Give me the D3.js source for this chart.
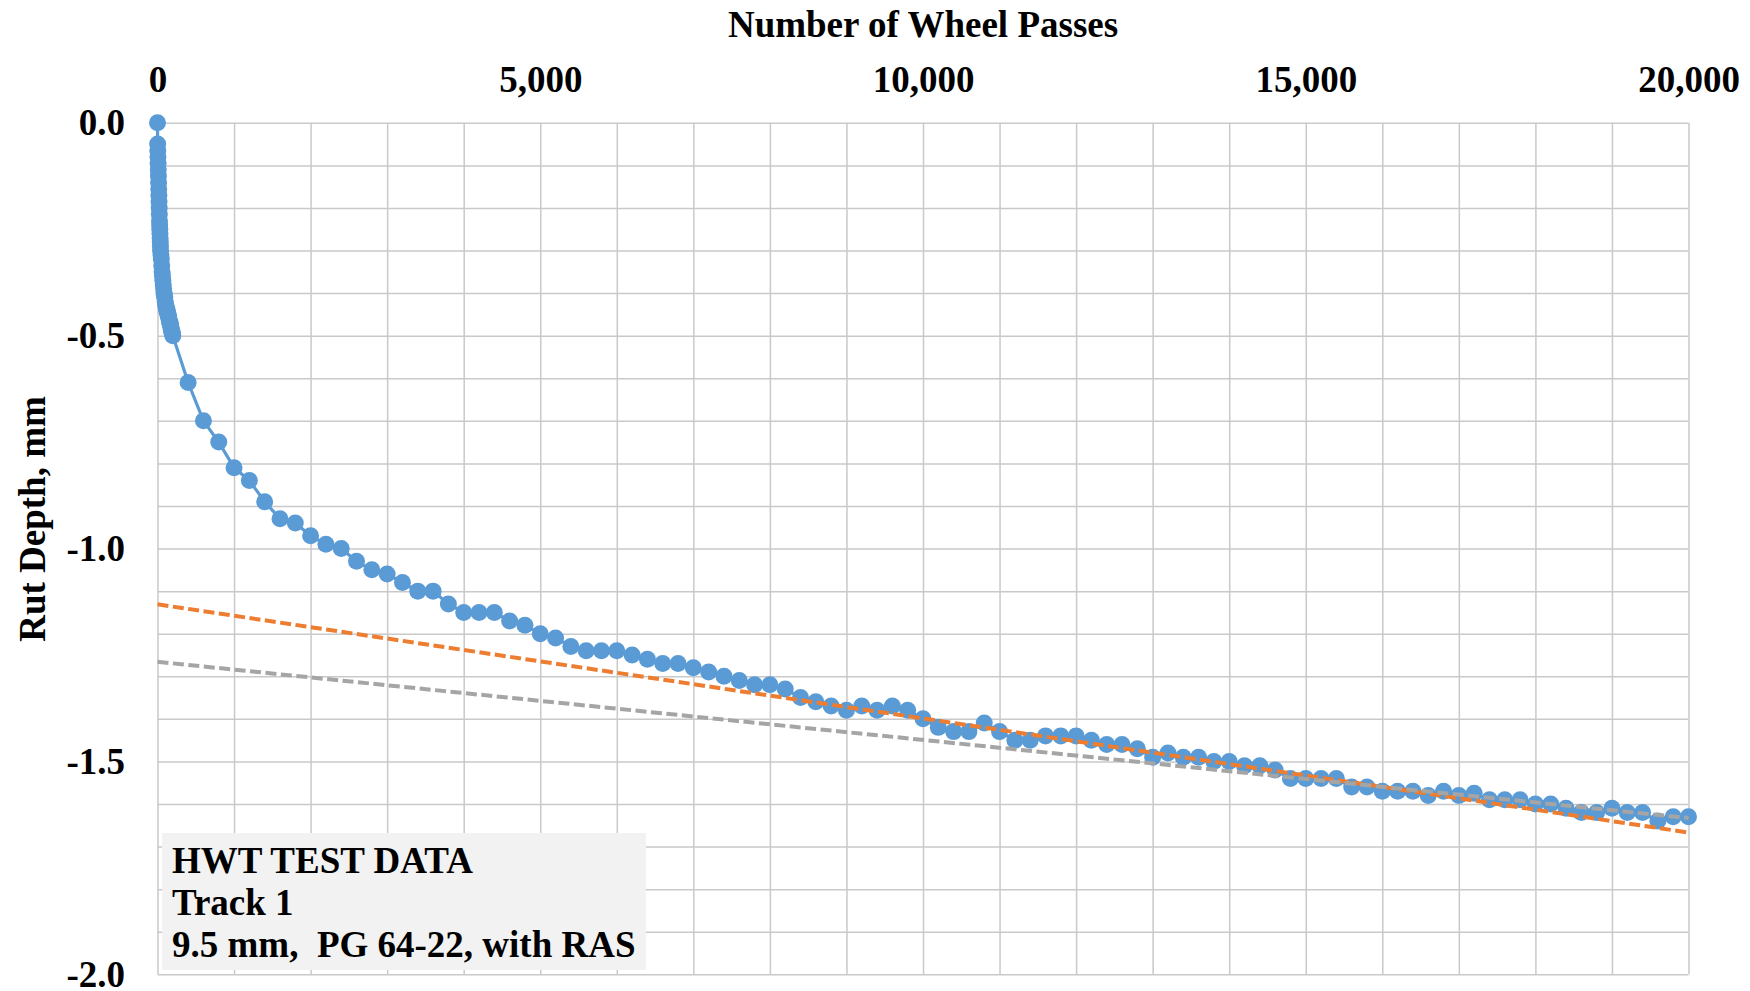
<!DOCTYPE html>
<html>
<head>
<meta charset="utf-8">
<script src="https://cdn.jsdelivr.net/npm/d3@7"></script>
<style>
  body { margin: 0; background: #fff; }
  text { font-family: "Liberation Serif", "Times New Roman", serif; font-weight: bold; white-space: pre; }
</style>
</head>
<body>
<svg id="chart"></svg>
<script>
// HWT data: wheel passes vs rut depth (mm)
const passes = [0, 2, 4, 6, 8, 10, 12, 14, 16, 18, 20, 22, 24, 26, 28, 30, 32, 34, 36, 38, 40,
  45, 50, 55, 60, 65, 70, 75, 80, 85, 90, 95,
  100, 105, 110, 115, 120, 125, 130, 135, 140, 145, 150, 155, 160, 165, 170, 175, 180, 185, 190, 195, 200,
  400, 600, 800, 1000, 1200, 1400, 1600, 1800, 2000, 2200, 2400, 2600, 2800, 3000, 3200, 3400, 3600, 3800,
  4000, 4200, 4400, 4600, 4800, 5000, 5200, 5400, 5600, 5800, 6000, 6200, 6400, 6600, 6800, 7000, 7200,
  7400, 7600, 7800, 8000, 8200, 8400, 8600, 8800, 9000, 9200, 9400, 9600, 9800, 10000, 10200, 10400,
  10600, 10800, 11000, 11200, 11400, 11600, 11800, 12000, 12200, 12400, 12600, 12800, 13000, 13200,
  13400, 13600, 13800, 14000, 14200, 14400, 14600, 14800, 15000, 15200, 15400, 15600, 15800, 16000,
  16200, 16400, 16600, 16800, 17000, 17200, 17400, 17600, 17800, 18000, 18200, 18400, 18600, 18800,
  19000, 19200, 19400, 19600, 19800, 20000];
const rutDepth = [0, -0.05, -0.065, -0.08, -0.095, -0.11, -0.125, -0.14, -0.155, -0.17, -0.185, -0.20,
  -0.215, -0.23, -0.24, -0.25, -0.26, -0.27, -0.28, -0.29, -0.30,
  -0.31, -0.32, -0.335, -0.35, -0.36, -0.37, -0.38, -0.39, -0.40, -0.405, -0.41,
  -0.42, -0.425, -0.43, -0.435, -0.44, -0.44, -0.445,
  -0.45, -0.45, -0.455, -0.46, -0.465, -0.47, -0.47, -0.475, -0.48, -0.485, -0.49, -0.49, -0.495, -0.50,
  -0.61, -0.70, -0.75, -0.81, -0.84, -0.89, -0.93, -0.94, -0.97, -0.99, -1.00, -1.03, -1.05, -1.06, -1.08,
  -1.10, -1.10, -1.13, -1.15, -1.15, -1.15, -1.17, -1.18, -1.20, -1.21, -1.23, -1.24, -1.24, -1.24, -1.25,
  -1.26, -1.27, -1.27, -1.28, -1.29, -1.30, -1.31, -1.32, -1.32, -1.33, -1.35, -1.36, -1.37, -1.38, -1.37,
  -1.38, -1.37, -1.38, -1.40, -1.42, -1.43, -1.43, -1.41, -1.43, -1.45, -1.45, -1.44, -1.44, -1.44, -1.45,
  -1.46, -1.46, -1.47, -1.49, -1.48, -1.49, -1.49, -1.50, -1.50, -1.51, -1.51, -1.52, -1.54, -1.54, -1.54,
  -1.54, -1.56, -1.56, -1.57, -1.57, -1.57, -1.58, -1.57, -1.58, -1.575, -1.59, -1.59, -1.59, -1.60, -1.60,
  -1.61, -1.62, -1.62, -1.61, -1.62, -1.62, -1.64, -1.63, -1.63];

// linear trend lines (end points)
const trendPasses = [0, 20000];
const orangeTrend = [-1.131, -1.667];
const grayTrend = [-1.266, -1.633];

const xTicks = [0, 5000, 10000, 15000, 20000];
const yTicks = [0, -0.5, -1.0, -1.5, -2.0];
const legendLines = ['HWT TEST DATA', 'Track 1', '9.5 mm,  PG 64-22, with RAS'];

const w = 1750, h = 991;
const margins = { top: 122.8, right: 61.5, bottom: 16.7, left: 157.5 };
const fontSize = 37;

const chart = d3.select('#chart')
  .attr('width', w)
  .attr('height', h);

const xScale = d3.scaleLinear()
  .domain([0, 20000])
  .range([margins.left, w - margins.right]);

const yScale = d3.scaleLinear()
  .domain([-2, 0])
  .range([h - margins.bottom, margins.top]);

// GRIDLINES
chart.append('g')
  .attr('class', 'grid')
  .attr('transform', `translate(0, ${h - margins.bottom})`)
  .call(d3.axisBottom(xScale)
    .tickValues(d3.range(0, 20001, 1000))
    .tickSize(-(h - margins.top - margins.bottom))
    .tickFormat(''))
  .call(g => g.select('.domain').remove());

chart.append('g')
  .attr('class', 'grid')
  .attr('transform', `translate(${margins.left}, 0)`)
  .call(d3.axisLeft(yScale)
    .tickValues(d3.range(0, 21).map(i => -i / 10))
    .tickSize(-(w - margins.left - margins.right))
    .tickFormat(''))
  .call(g => g.select('.domain').remove());

chart.selectAll('.grid line')
  .attr('stroke', '#c9c9c9')
  .attr('stroke-width', 1.5);

// X AXIS (top)
chart.append('g')
  .attr('transform', `translate(0, ${margins.top})`)
  .call(d3.axisTop(xScale)
    .tickValues(xTicks)
    .tickSize(0)
    .tickPadding(31)
    .tickFormat(d3.format(',')))
  .call(g => g.select('.domain').remove())
  .attr('font-family', null)
  .attr('font-size', fontSize)
  .selectAll('text').attr('fill', '#000');

// Y AXIS
chart.append('g')
  .attr('transform', `translate(${margins.left}, 0)`)
  .call(d3.axisLeft(yScale)
    .tickValues(yTicks)
    .tickSize(0)
    .tickPadding(32.5)
    .tickFormat(d => d.toFixed(1)))
  .call(g => g.select('.domain').remove())
  .attr('font-family', null)
  .attr('font-size', fontSize)
  .selectAll('text').attr('fill', '#000');

// AXIS TITLES
chart.append('text')
  .attr('transform', `translate(${(margins.left + w - margins.right) / 2}, 37)`)
  .attr('text-anchor', 'middle')
  .attr('font-size', fontSize)
  .text('Number of Wheel Passes');

chart.append('text')
  .attr('transform', `translate(45, 519) rotate(-90)`)
  .attr('text-anchor', 'middle')
  .attr('font-size', fontSize)
  .text('Rut Depth, mm');

// DATA SERIES
const data = passes.map((p, i) => ({ x: p, y: rutDepth[i] }));
const line = d3.line().x(d => xScale(d.x)).y(d => yScale(d.y));

chart.append('path')
  .datum(data)
  .attr('fill', 'none')
  .attr('stroke', '#5b9bd5')
  .attr('stroke-width', 3.2)
  .attr('d', line);

chart.selectAll('circle.pt')
  .data(data)
  .join('circle')
  .attr('class', 'pt')
  .attr('cx', d => xScale(d.x))
  .attr('cy', d => yScale(d.y))
  .attr('r', 8.5)
  .attr('fill', '#5b9bd5');

// TREND LINES
[[orangeTrend, '#ed7d31'], [grayTrend, '#a5a5a5']].forEach(([vals, color]) => {
  chart.append('path')
    .datum(trendPasses.map((p, i) => ({ x: p, y: vals[i] })))
    .attr('fill', 'none')
    .attr('stroke', color)
    .attr('stroke-width', 4)
    .attr('stroke-dasharray', '11,4.5')
    .attr('d', line);
});

// LEGEND BOX
chart.append('rect')
  .attr('x', 162)
  .attr('y', 833)
  .attr('width', 484)
  .attr('height', 137)
  .attr('fill', '#f2f2f2');

chart.selectAll('text.legend')
  .data(legendLines)
  .join('text')
  .attr('class', 'legend')
  .attr('x', 172)
  .attr('y', (d, i) => 873 + i * 42)
  .attr('font-size', fontSize)
  .text(d => d);
</script>
</body>
</html>
